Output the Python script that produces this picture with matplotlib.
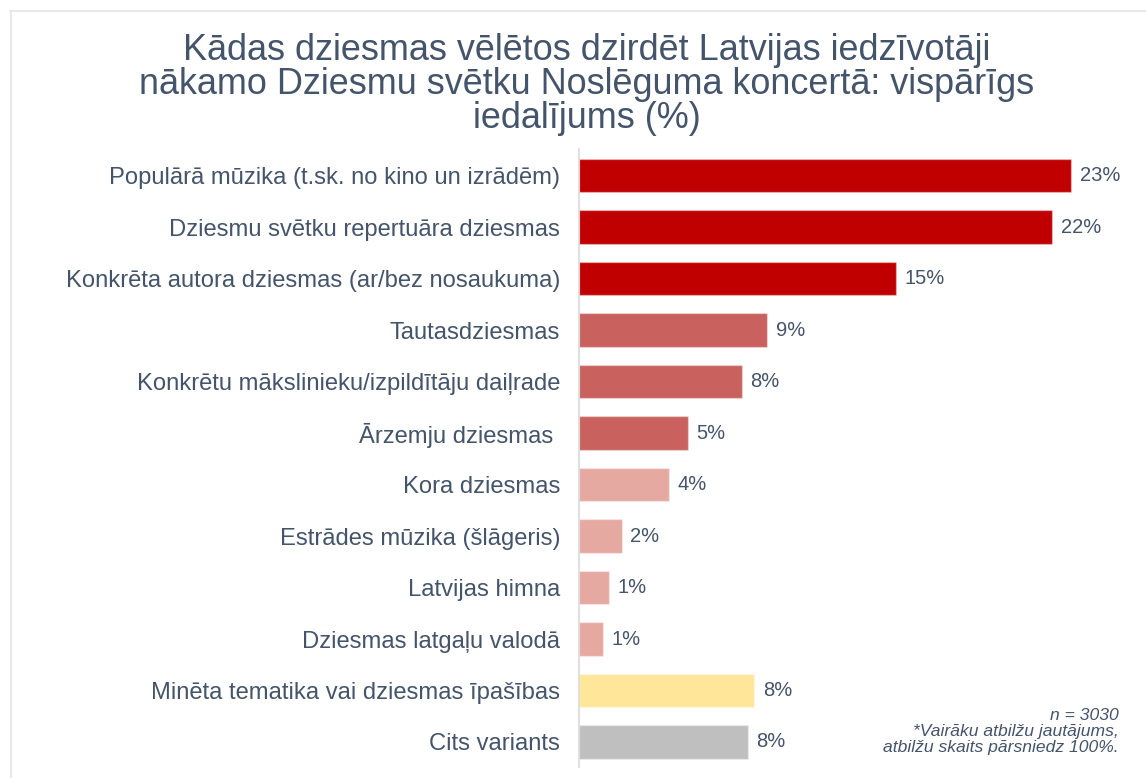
import matplotlib
matplotlib.use("Agg")
import matplotlib.pyplot as plt
from matplotlib.lines import Line2D

# ── Data ──────────────────────────────────────────────────────────────────────
categories = [
    "Populārā mūzika (t.sk. no kino un izrādēm)",
    "Dziesmu svētku repertuāra dziesmas",
    "Konkrēta autora dziesmas (ar/bez nosaukuma)",
    "Tautasdziesmas",
    "Konkrētu mākslinieku/izpildītāju daiļrade",
    "Ārzemju dziesmas ",
    "Kora dziesmas",
    "Estrādes mūzika (šlāgeris)",
    "Latvijas himna",
    "Dziesmas latgaļu valodā",
    "Minēta tematika vai dziesmas īpašības",
    "Cits variants",
]
values = [23.0, 22.1, 14.8, 8.8, 7.6, 5.1, 4.2, 2.0, 1.4, 1.1, 8.2, 7.9]
value_labels = ["23%", "22%", "15%", "9%", "8%", "5%", "4%", "2%", "1%", "1%", "8%", "8%"]
colors = (["#C00000"] * 3 + ["#C9625F"] * 3 + ["#E6A9A2"] * 4
          + ["#FFE699", "#BFBFBF"])

TITLE = ("Kādas dziesmas vēlētos dzirdēt Latvijas iedzīvotāji\n"
         "nākamo Dziesmu svētku Noslēguma koncertā: vispārīgs\n"
         "iedalījums (%)")
NOTE = ("n = 3030\n*Vairāku atbilžu jautājums,\n"
        "atbilžu skaits pārsniedz 100%.")

TEXT = "#44546A"
W, H = 1146, 778

plt.rcParams["font.family"] = ["Liberation Sans", "DejaVu Sans"]

fig = plt.figure(figsize=(W / 100, H / 100), dpi=100)
fig.patch.set_facecolor("white")

# axes: left edge at the category axis line (x=579), from y=149 down to y=767
ax = fig.add_axes([579 / W, (H - 767) / H, (1120 - 579) / W, (767 - 149.3) / H])
y = list(range(len(categories)))
ax.barh(y, values, height=0.65, color=colors,
        edgecolor=(1, 1, 1, 0.35), linewidth=1.0, zorder=2)

for yi, v, lab in zip(y, values, value_labels):
    ax.text(v + 0.40, yi, lab, va="center", ha="left",
            fontsize=14.5, color=TEXT)

ax.set_xlim(0, 541 / 21.4)
ax.set_ylim(11.486, -0.513)
ax.set_yticks(y)
ax.set_yticklabels(categories, fontsize=17.1, color=TEXT)
ax.tick_params(axis="y", length=0, pad=13.5)
ax.set_xticks([])
for name, sp in ax.spines.items():
    sp.set_visible(name == "left")
ax.spines["left"].set_color("#D9D9D9")
ax.spines["left"].set_linewidth(1.2)

fig.text(587 / W, 1 - 84.5 / H, TITLE, ha="center", va="center",
         fontsize=25.9, color=TEXT, linespacing=0.98)

fig.text(1119 / W, 1 - 731.5 / H, NOTE, ha="right", va="center",
         fontsize=12.6, style="italic", color=TEXT,
         multialignment="right", linespacing=1.12)

# light frame lines at top and left
fig.add_artist(Line2D([10 / W, 1], [1 - 10.5 / H] * 2,
                      transform=fig.transFigure, color="#E3E3E3", lw=1.1))
fig.add_artist(Line2D([10.5 / W] * 2, [0, 1 - 10.5 / H],
                      transform=fig.transFigure, color="#E3E3E3", lw=1.1))

fig.savefig("out.png", dpi=100, facecolor="white")
